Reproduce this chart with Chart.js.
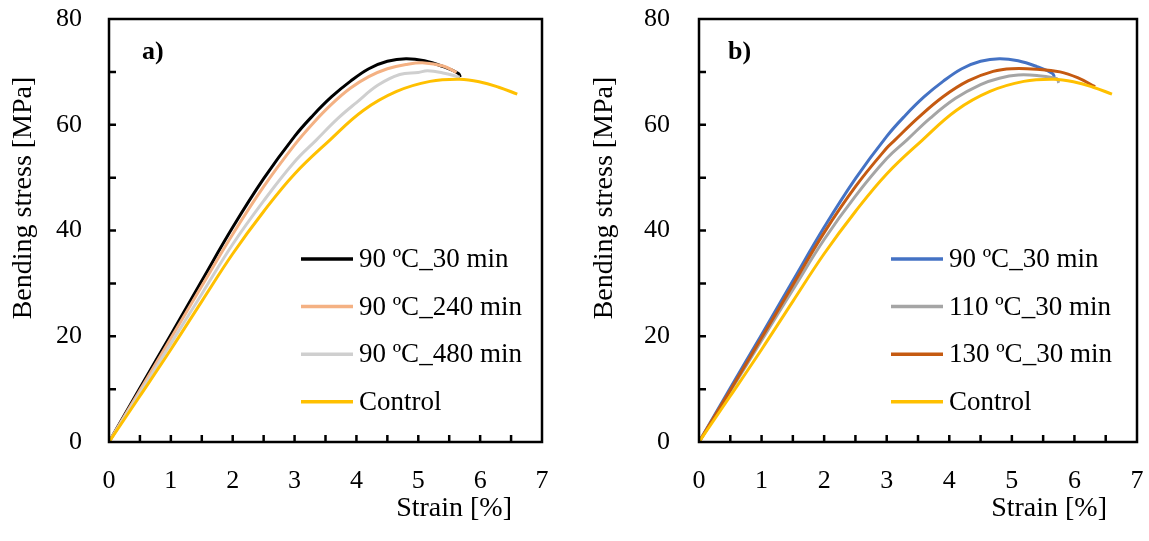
<!DOCTYPE html>
<html>
<head>
<meta charset="utf-8">
<script src="https://cdn.jsdelivr.net/npm/chart.js@4"></script>
<style>
  body { margin: 0; background: #fff; width: 1149px; height: 541px; overflow: hidden; position: relative; }
  .panel { position: absolute; top: 0; height: 541px; }
  #wrapA { left: 0; width: 580px; }
  #wrapB { left: 580px; width: 569px; }
</style>
</head>
<body>
<div class="panel" id="wrapA"><canvas id="chartA" width="580" height="541"></canvas></div>
<div class="panel" id="wrapB"><canvas id="chartB" width="569" height="541"></canvas></div>
<script>
// axis ticks
const xTicks = [0, 1, 2, 3, 4, 5, 6, 7];
const yTicks = [0, 20, 40, 60, 80];
const xMinor = [0.5, 1, 1.5, 2, 2.5, 3, 3.5, 4, 4.5, 5, 5.5, 6, 6.5];
const yMinor = [10, 20, 30, 40, 50, 60, 70];

// 90 ºC_30 min (same sample in both panels)
const strain90_30 = [0, 0.5, 1, 1.5, 2, 2.5, 3, 3.3, 3.6, 3.9, 4.2, 4.5, 4.8, 5.1, 5.4, 5.65, 5.68];
const stress90_30 = [0, 10.2, 20.3, 30.5, 40.6, 49.8, 57.8, 61.8, 65.3, 68.2, 70.6, 72, 72.5, 72.1, 71, 69.7, 69.0];

// 90 ºC_240 min
const strain90_240 = [0, 0.5, 1, 1.5, 2, 2.5, 3, 3.3, 3.6, 3.9, 4.2, 4.5, 4.8, 5.1, 5.4, 5.62];
const stress90_240 = [0, 9.8, 19.6, 29.5, 39.3, 48.3, 56.2, 60.3, 63.9, 66.9, 69.1, 70.6, 71.4, 71.7, 71.1, 69.9];

// 90 ºC_480 min
const strain90_480 = [0, 0.5, 1, 1.5, 2, 2.5, 3, 3.35, 3.7, 4.0, 4.35, 4.7, 5.0, 5.15, 5.4, 5.67];
const stress90_480 = [0, 9.3, 18.6, 28, 37.4, 45.6, 53, 57.1, 61.2, 64.2, 67.5, 69.5, 69.9, 70.2, 69.8, 69.0];

// 110 ºC_30 min
const strain110_30 = [0, 0.5, 1, 1.5, 2, 2.5, 3, 3.32, 3.7, 4.1, 4.5, 4.8, 5.1, 5.4, 5.72, 5.75];
const stress110_30 = [0, 9.6, 19.2, 28.8, 38.3, 46.5, 53.6, 57.1, 61.3, 65, 67.6, 68.8, 69.4, 69.3, 68.7, 67.9];

// 130 ºC_30 min
const strain130_30 = [0, 0.5, 1, 1.5, 2, 2.5, 3, 3.13, 3.5, 3.9, 4.3, 4.7, 5.0, 5.4, 5.77, 6.05, 6.33];
const stress130_30 = [0, 9.8, 19.7, 29.7, 39.6, 48.3, 55.6, 57.1, 61.3, 65.3, 68.3, 70.1, 70.6, 70.5, 70.0, 68.9, 67.2];

// Control
const strainControl = [0, 0.5, 1, 1.5, 2, 2.5, 3, 3.57, 4.11, 4.65, 5.19, 5.67, 6.0, 6.3, 6.6];
const stressControl = [0, 8.7, 17.5, 26.6, 35.6, 43.6, 50.7, 57.1, 62.7, 66.3, 68.2, 68.6, 68.1, 67.1, 65.8];

const FONT = "'Liberation Serif', 'Times New Roman', serif";

function pts(xs, ys) {
  return xs.map((x, i) => ({ x: x, y: ys[i] }));
}

const decorPlugin = {
  id: 'decor',
  afterDatasetsDraw(chart, args, opts) {
    const ctx = chart.ctx;
    const a = chart.chartArea;
    const xs = chart.scales.x, ys = chart.scales.y;
    ctx.save();
    // frame
    ctx.strokeStyle = '#000';
    ctx.lineWidth = 2.5;
    ctx.strokeRect(a.left, a.top, a.right - a.left, a.bottom - a.top);
    // inward tick marks
    ctx.beginPath();
    xMinor.forEach(v => {
      const px = xs.getPixelForValue(v);
      ctx.moveTo(px, a.bottom);
      ctx.lineTo(px, a.bottom - 7);
    });
    yMinor.forEach(v => {
      const py = ys.getPixelForValue(v);
      ctx.moveTo(a.left, py);
      ctx.lineTo(a.left + 7, py);
    });
    ctx.stroke();

    // panel letter
    ctx.fillStyle = '#000';
    ctx.font = 'bold 26px ' + FONT;
    ctx.textAlign = 'left';
    ctx.textBaseline = 'middle';
    ctx.fillText(opts.letter, a.left + opts.letterDx, a.top + 33);

    // legend inside the plot
    ctx.font = '27px ' + FONT;
    chart.data.datasets.forEach((ds, i) => {
      const yy = a.top + 240 + i * 47.6;
      ctx.strokeStyle = ds.borderColor;
      ctx.lineWidth = 3.5;
      ctx.beginPath();
      ctx.moveTo(a.left + 192, yy);
      ctx.lineTo(a.left + 244, yy);
      ctx.stroke();
      ctx.fillText(ds.label, a.left + 250, yy + 1);
    });

    // axis titles
    ctx.font = '28px ' + FONT;
    ctx.textAlign = 'right';
    ctx.fillText('Strain [%]', a.right - 30, 509);
    ctx.translate(opts.yTitleX, 198);
    ctx.rotate(-Math.PI / 2);
    ctx.textAlign = 'center';
    ctx.fillText('Bending stress [MPa]', 0, 0);
    ctx.restore();
  }
};

function makeChart(id, series, plotLeft, plotRight, letter, letterDx, yTitleX, yPad) {
  const canvas = document.getElementById(id);
  const n = series.length;
  return new Chart(canvas, {
    type: 'line',
    data: {
      datasets: series.map((s, i) => ({
        label: s.label,
        data: pts(s.x, s.y),
        borderColor: s.color,
        borderWidth: 3,
        pointRadius: 0,
        tension: 0.4,
        fill: false,
        order: n - i
      }))
    },
    options: {
      responsive: false,
      animation: false,
      layout: { padding: { left: 0, right: canvas.width - plotRight, top: 19, bottom: 0 } },
      plugins: {
        legend: { display: false },
        tooltip: { enabled: false },
        decor: { letter: letter, letterDx: letterDx, yTitleX: yTitleX }
      },
      scales: {
        x: {
          type: 'linear',
          min: 0, max: 7,
          afterFit: sc => { sc.height = 99; sc.paddingLeft = 0; sc.paddingRight = 0; },
          afterBuildTicks: sc => { sc.ticks = xTicks.map(v => ({ value: v })); },
          grid: { display: false, drawTicks: false },
          border: { display: false },
          ticks: { padding: 24, color: '#000', font: { family: FONT, size: 26 } }
        },
        y: {
          min: 0, max: 80,
          afterFit: sc => { sc.width = plotLeft; sc.paddingTop = 0; sc.paddingBottom = 0; },
          afterBuildTicks: sc => { sc.ticks = yTicks.map(v => ({ value: v })); },
          grid: { display: false, drawTicks: false },
          border: { display: false },
          ticks: { padding: yPad, color: '#000', font: { family: FONT, size: 26 } }
        }
      }
    },
    plugins: [decorPlugin]
  });
}

makeChart('chartA', [
  { label: '90 ºC_30 min', x: strain90_30, y: stress90_30, color: '#000000' },
  { label: '90 ºC_240 min', x: strain90_240, y: stress90_240, color: '#F4B183' },
  { label: '90 ºC_480 min', x: strain90_480, y: stress90_480, color: '#CFCFCF' },
  { label: 'Control', x: strainControl, y: stressControl, color: '#FFC000' }
], 109, 542, 'a)', 33, 24, 27);

makeChart('chartB', [
  { label: '90 ºC_30 min', x: strain90_30, y: stress90_30, color: '#4472C4' },
  { label: '110 ºC_30 min', x: strain110_30, y: stress110_30, color: '#A5A5A5' },
  { label: '130 ºC_30 min', x: strain130_30, y: stress130_30, color: '#C55A11' },
  { label: 'Control', x: strainControl, y: stressControl, color: '#FFC000' }
], 119, 557, 'b)', 29, 25, 29);
</script>
</body>
</html>
